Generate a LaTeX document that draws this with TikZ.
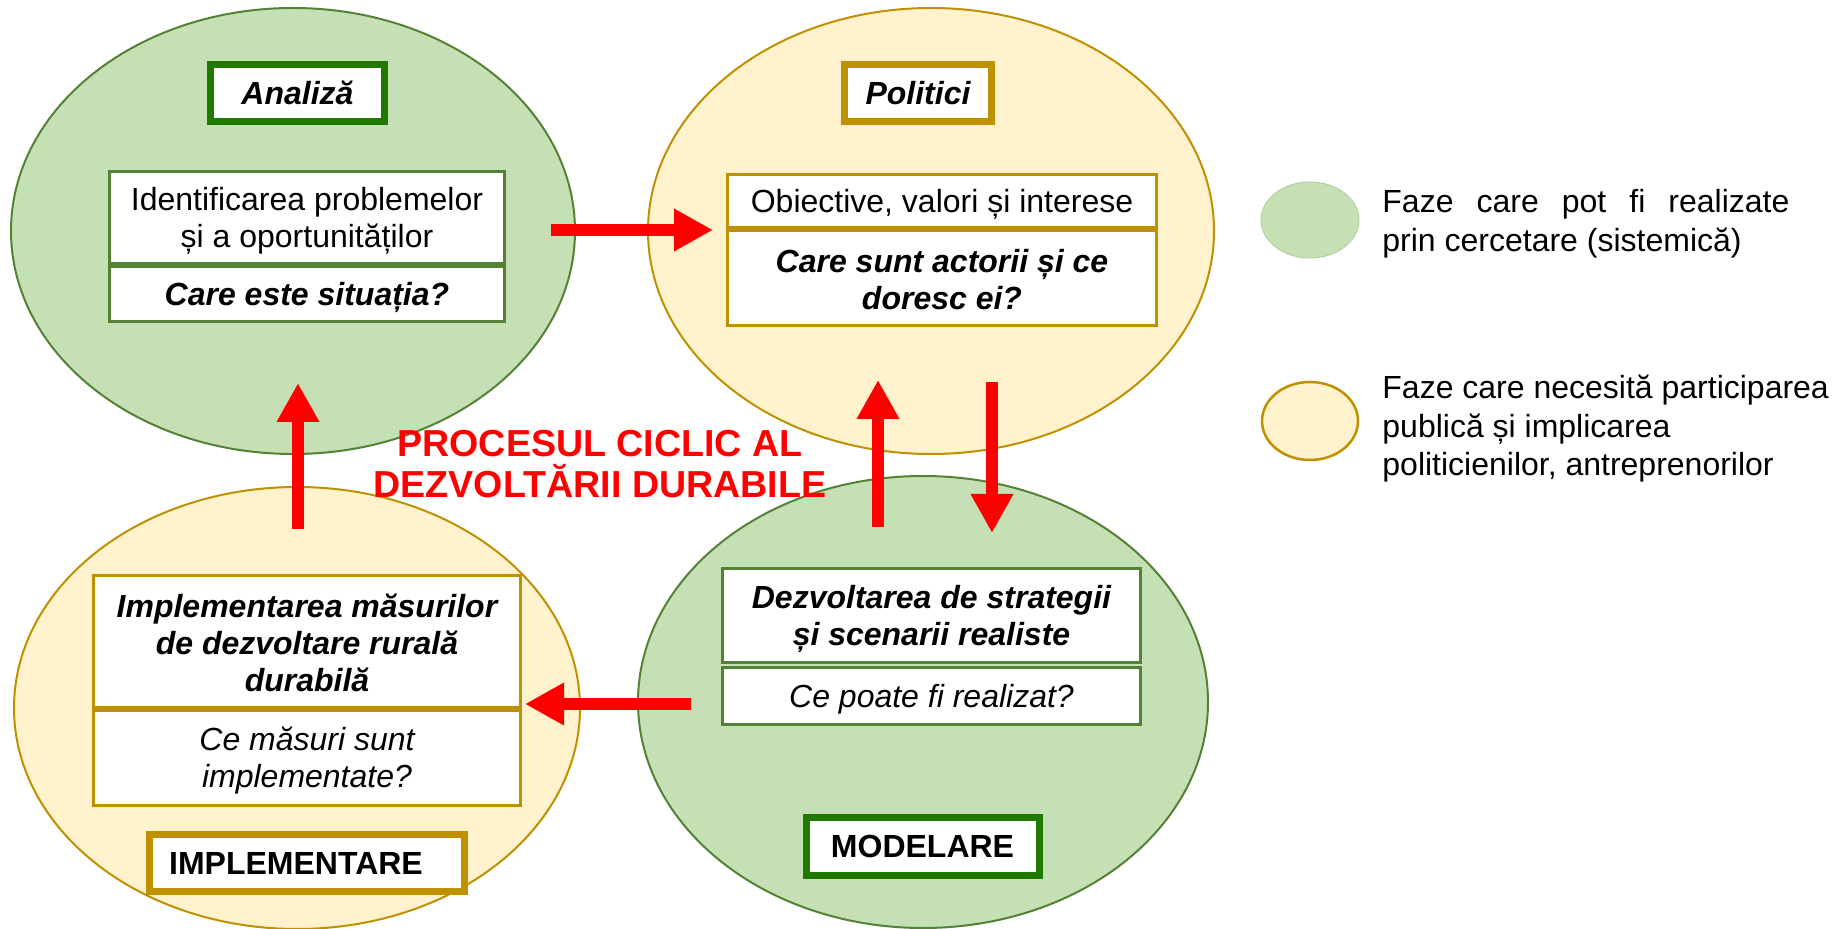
\documentclass[tikz,border=0pt]{standalone}
\usepackage{fontspec}
\setmainfont{Liberation Sans}
\usetikzlibrary{shapes.geometric,arrows.meta}
\definecolor{gfill}{HTML}{C5E0B4}
\definecolor{gline}{HTML}{548235}
\definecolor{gdark}{HTML}{217A00}
\definecolor{yfill}{HTML}{FFF2CC}
\definecolor{yline}{HTML}{BF9000}
\definecolor{arrred}{HTML}{FF0000}
\newcommand{\lstrut}{\rule[-1.7pt]{0pt}{16.4pt}}
\begin{document}
\begin{tikzpicture}[x=0.5pt,y=-0.5pt,
  txt/.style={font=\fontsize{16}{18.5}\selectfont},
  bitxt/.style={font=\fontsize{16}{18.5}\selectfont\bfseries\itshape},
  itxt/.style={font=\fontsize{16}{18.5}\selectfont\itshape},
  btxt/.style={font=\fontsize{16}{18.5}\selectfont\bfseries},
  phase/.style={ellipse, inner sep=0pt, line width=1pt},
  gphase/.style={phase, fill=gfill, draw=gline},
  yphase/.style={phase, fill=yfill, draw=yline},
  gbox/.style={rectangle, draw=gline, fill=white, line width=1.5pt, inner sep=0pt, align=center},
  ybox/.style={rectangle, draw=yline, fill=white, line width=1.5pt, inner sep=0pt, align=center},
  glabel/.style={rectangle, draw=gdark, fill=white, line width=3.5pt, inner sep=0pt},
  ylabel/.style={rectangle, draw=yline, fill=white, line width=3.5pt, inner sep=0pt},
  redarrow/.style={draw=arrred, line width=6pt, -{Triangle[length=19.5pt,width=20pt]}},
  legtxt/.style={font=\fontsize{16}{19.25}\selectfont, anchor=north west, align=left, inner sep=0pt}
]
\useasboundingbox (0,0) rectangle (1841,929);

% phase ellipses
\node[gphase, minimum width=282pt, minimum height=223pt] (analiza) at (293,231) {};
\node[yphase, minimum width=283pt, minimum height=223pt] (politici) at (931,231) {};
\node[yphase, minimum width=283pt, minimum height=221pt] (implem) at (297,708) {};
\node[gphase, minimum width=285pt, minimum height=226pt] (modelare) at (923,702) {};

% phase labels
\node[glabel, minimum width=87pt, minimum height=28.5pt, bitxt] (lanaliza) at (297.5,93) {Analiză};
\node[ylabel, minimum width=73.5pt, minimum height=28.5pt, bitxt] (lpolitici) at (918,93) {Politici};
\node[ylabel, minimum width=157.5pt, minimum height=28.5pt, btxt] (limplem) at (307,863) {IMPLEMENTARE\kern11pt\relax};
\node[glabel, minimum width=116.5pt, minimum height=29pt, btxt] (lmodelare) at (922.5,846) {MODELARE};

% content boxes
\node[gbox, txt, minimum width=197.5pt, minimum height=46pt] (b1a) at (307,217.5) {\lstrut Identificarea problemelor\\\lstrut și a oportunităților};
\node[gbox, bitxt, minimum width=197.5pt, minimum height=27.5pt] (b1b) at (307,294) {\lstrut Care este situația?};

\node[ybox, txt, minimum width=214.5pt, minimum height=26.5pt] (b2a) at (942,201) {\lstrut Obiective, valori și interese};
\node[ybox, bitxt, minimum width=214.5pt, minimum height=47.5pt] (b2b) at (942,278) {\lstrut Care sunt actorii și ce\\\lstrut doresc ei?};

\node[ybox, bitxt, minimum width=213.5pt, minimum height=66pt] (b3a) at (307,641.5) {\lstrut Implementarea măsurilor\\\lstrut de dezvoltare rurală\\\lstrut durabilă};
\node[ybox, itxt, minimum width=213.5pt, minimum height=47.5pt] (b3b) at (307,758) {\lstrut Ce măsuri sunt\\\lstrut implementate?};

\node[gbox, bitxt, minimum width=209pt, minimum height=47pt] (b4a) at (931.5,615.5) {\lstrut Dezvoltarea de strategii\\\lstrut și scenarii realiste};
\node[gbox, itxt, minimum width=209pt, minimum height=28.5pt] (b4b) at (931.5,696) {\lstrut Ce poate fi realizat?};

% arrows
\coordinate (r1s) at (551,230);
\coordinate (r1e) at (713,230);
\coordinate (r2s) at (992,382);
\coordinate (r2e) at (992,533);
\coordinate (r3s) at (691,704);
\coordinate (r3e) at (525,704);
\coordinate (r4s) at (298,529);
\coordinate (r4e) at (298,383);
\coordinate (r5s) at (878,527);
\coordinate (r5e) at (878,380);
\draw[redarrow] (r1s) -- (r1e);
\draw[redarrow] (r2s) -- (r2e);
\draw[redarrow] (r3s) -- (r3e);
\draw[redarrow] (r4s) -- (r4e);
\draw[redarrow] (r5s) -- (r5e);

% title
\node[font=\fontsize{18.8}{20.5}\selectfont\bfseries, text=arrred, align=center, inner sep=0pt] (title) at (600,464) {PROCESUL CICLIC AL\\DEZVOLTĂRII DURABILE};

% legend
\node[phase, fill=gfill, draw=gfill!85!gline, line width=0.5pt, minimum width=49pt, minimum height=38pt] (leggreen) at (1310,220) {};
\node[yphase, line width=1.25pt, minimum width=48pt, minimum height=39pt] (legyellow) at (1310,421) {};
\node[legtxt] (leggreentxt) at (1382,189) {\makebox[203.5pt][s]{Faze care pot fi realizate}\\prin cercetare (sistemică)};
\node[legtxt] (legyellowtxt) at (1382,375) {Faze care necesită participarea\\publică și implicarea\\politicienilor, antreprenorilor};
\end{tikzpicture}
\end{document}
